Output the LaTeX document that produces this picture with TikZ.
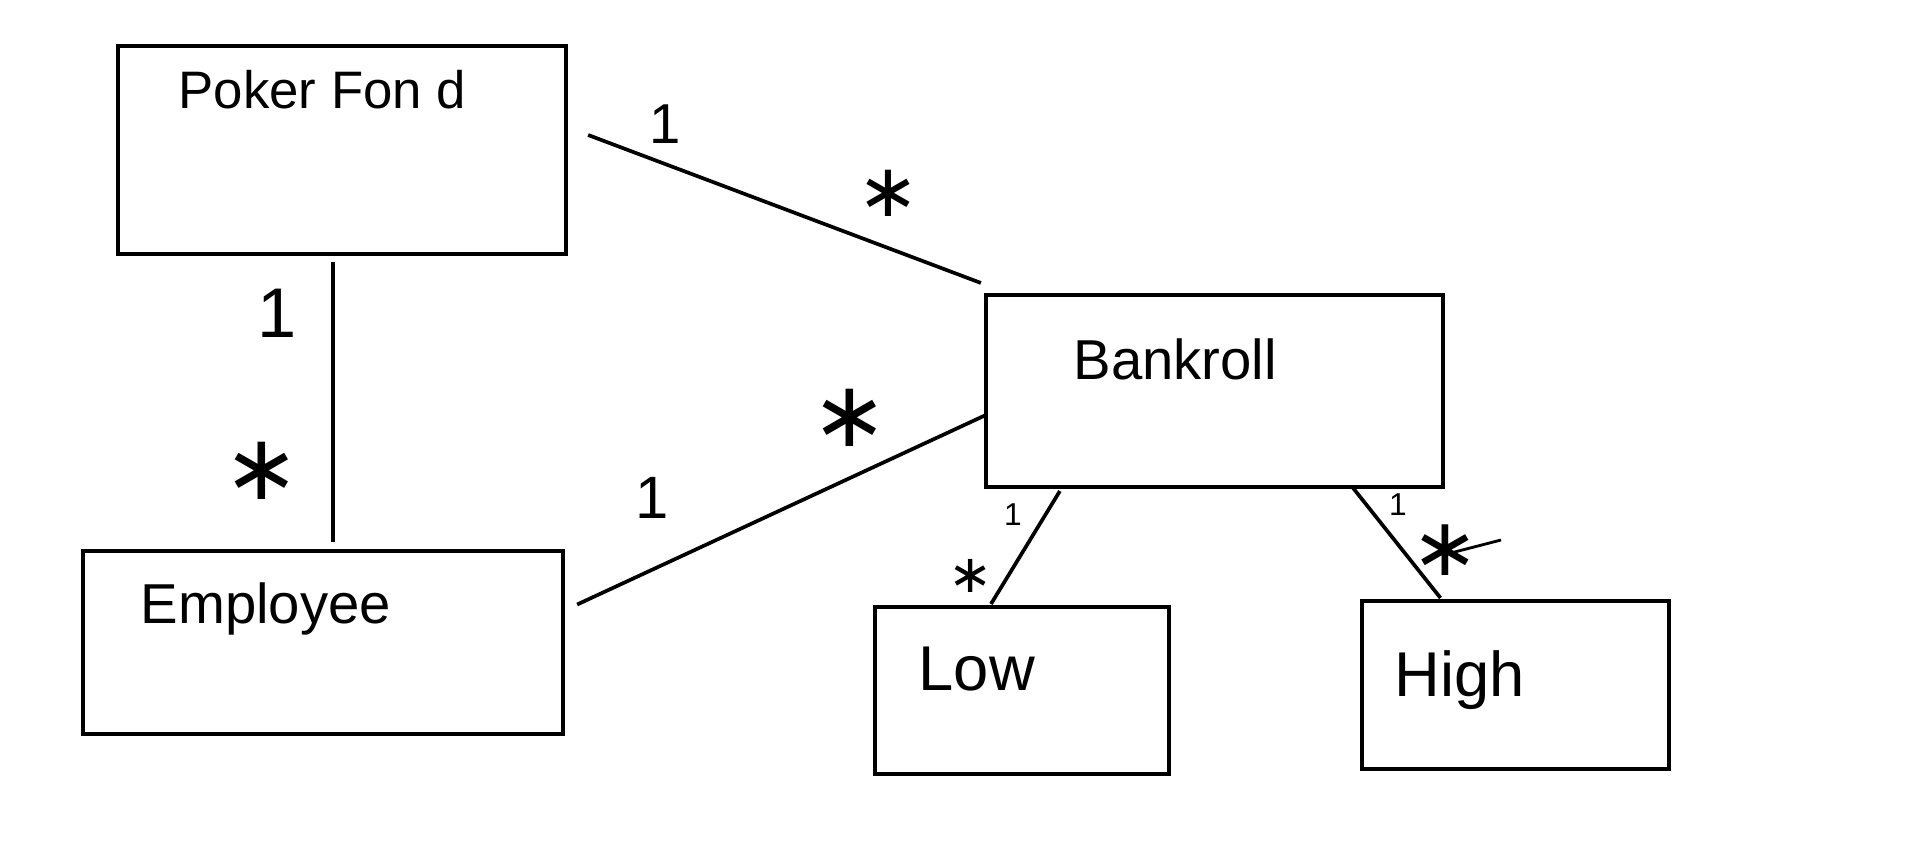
\documentclass[tikz,border=0pt]{standalone}
\usepackage{fontspec}
\setmainfont{Liberation Sans}
\newfontfamily\starfont{DejaVu Sans}
\newcommand{\fs}[1]{\fontsize{#1}{#1}\selectfont}
\tikzset{
	box/.style={draw, line width=1.15pt, inner sep=0pt, outer sep=0pt},
	link/.style={line width=1.05pt},
	title/.style={anchor=base west, inner sep=0pt},
	mult/.style={anchor=base, inner sep=0pt},
	many/.style={anchor=base, inner sep=0pt, text height=0pt, text depth=0pt},
}

\begin{document}
\begin{tikzpicture}[x=0.01cm, y=-0.01cm]
		\useasboundingbox (0,0) rectangle (1914,863);
		
		% classes
		\node[box, minimum width=4.48cm, minimum height=2.08cm] (fond) at (342,150) {};
		\node[box, minimum width=4.80cm, minimum height=1.83cm] (employee) at (323,642.5) {};
		\node[box, minimum width=4.57cm, minimum height=1.92cm] (bankroll) at (1214.5,391) {};
		\node[box, minimum width=2.94cm, minimum height=1.67cm] (low) at (1022,690.5) {};
		\node[box, minimum width=3.07cm, minimum height=1.68cm] (high) at (1515.5,685) {};
		
		\node[title, font=\fs{15}] (fondname) at (178,108) {Poker Fon d};
		\node[title, font=\fs{16}] (employeename) at (140,623) {Employee};
		\node[title, font=\fs{16}] (bankrollname) at (1073,379) {Bankroll};
		\node[title, font=\fs{18}] (lowname) at (918,690) {Low};
		\node[title, font=\fs{18}] (highname) at (1394,696) {High};
		
		% associations
		\draw[link] ([shift={(22,-15)}]fond.east) -- ([shift={(-5,-12)}]bankroll.north west);
		\draw[link] ([shift={(-9,8)}]fond.south) -- ([shift={(10,-9)}]employee.north);
		\draw[link] ([shift={(14,-38)}]employee.east) -- ([shift={(0,24)}]bankroll.west);
		\draw[link] ([shift={(74,4)}]bankroll.south west) -- ([shift={(-31,-3)}]low.north);
		\draw[link] ([shift={(-90,1)}]bankroll.south east) -- ([shift={(-75,-3)}]high.north);
		
		% multiplicities
		\node[mult, font=\fs{16}] (m1) at (665,143) {1};
		\node[many, font=\starfont\fs{21}] (m2) at (888,216) {∗};
		\node[mult, font=\fs{20}] (m3) at (277,337) {1};
		\node[many, font=\starfont\fs{26}] (m4) at (262,499) {∗};
		\node[mult, font=\fs{17}] (m5) at (652,518) {1};
		\node[many, font=\starfont\fs{26}] (m6) at (850,446) {∗};
		\node[mult, font=\fs{9}] (m7) at (1013,525) {1};
		\node[many, font=\starfont\fs{15}] (m8) at (971,592) {∗};
		\node[mult, font=\fs{9}] (m9) at (1398,515) {1};
		\node[many, font=\starfont\fs{23}] (m10) at (1445,575) {∗};
		\coordinate (tick) at (1443,555);
		\draw[line width=0.8pt] (tick) -- ++(58,-15);
	\end{tikzpicture}
\end{document}
